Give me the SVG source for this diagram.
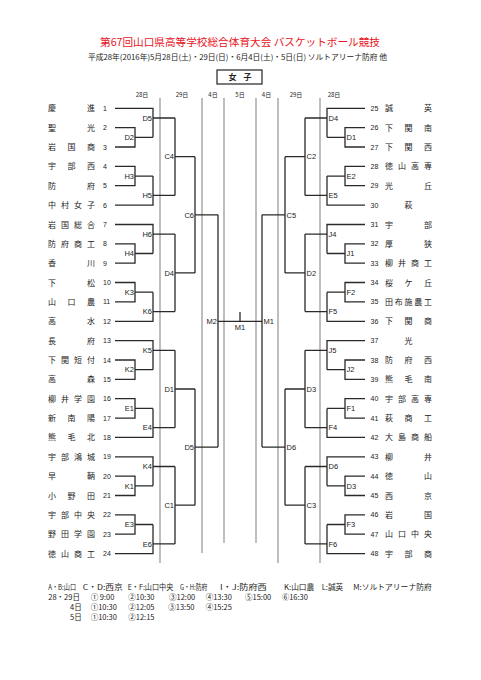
<svg xmlns="http://www.w3.org/2000/svg" width="481" height="680" viewBox="0 0 481 680">
<style>
text{font-family:"Liberation Sans","Noto Sans CJK JP",sans-serif;fill:#222}
.jp{font-family:"Noto Sans CJK JP","Noto Sans",sans-serif}
.title{font-family:"Noto Sans CJK JP",sans-serif;font-size:10.5px;fill:#e8141e}
.sub{font-family:"Noto Sans CJK JP",sans-serif;font-size:7.5px}
.nm{font-family:"Noto Sans CJK JP",sans-serif;font-size:8px;text-anchor:middle}
.no{font-size:7px}
.lb{font-size:7.5px}
.l{text-anchor:end}
.dt{font-family:"Noto Sans CJK JP",sans-serif;font-size:6px;text-anchor:middle}
.ft{font-family:"Noto Sans CJK JP",sans-serif;font-size:7.5px}
.grid{stroke:#a3a3a3;stroke-width:1.4;fill:none}
.br{stroke:#2a2a2a;stroke-width:1.3;fill:none}
</style>

<g id="header">
<text class="title" x="240" y="45.8" text-anchor="middle" textLength="280" lengthAdjust="spacingAndGlyphs">第67回山口県高等学校総合体育大会 バスケットボール競技</text>
<text class="sub" x="88" y="59.9" textLength="299" lengthAdjust="spacingAndGlyphs">平成28年(2016年)5月28日(土)・29日(日)・6月4日(土)・5日(日)  ソルトアリーナ防府 他</text>
</g>

<g id="category">
<rect x="217" y="70" width="45" height="14" fill="none" stroke="#222" stroke-width="1.2"/>
<text class="nm" x="232.5 247.5" y="80" font-weight="700">女子</text>
</g>

<g id="dates">
<text class="dt" x="142" y="97">28日</text>
<text class="dt" x="182" y="97">29日</text>
<text class="dt" x="213" y="97">4日</text>
<text class="dt" x="240" y="97">5日</text>
<text class="dt" x="266.5" y="97">4日</text>
<text class="dt" x="296" y="97">29日</text>
<text class="dt" x="334" y="97">28日</text>
</g>

<g id="day-lines" class="grid">
<path d="M160 98V563M202 98V553M224 98V543M256 98V543M278 98V563M320 98V563"/>
</g>

<g id="connectors" class="br">
<path d="M115 108.3H153V137.3M115 127.7H135V147H115M135 137.3H153M153 118H175"/>
<path d="M115 166.4H135V185.7H115M135 176.1H153M115 205.1H153V176.1M153 195.4H175"/>
<path d="M175 118V195.4M175 156.7H195"/>
<path d="M115 224.5H153V253.5M115 243.8H135V263.2H115M135 253.5H153M153 234.1H175"/>
<path d="M115 282.5H135V301.9H115M135 292.2H153M115 321.3H153V292.2M153 311.6H175"/>
<path d="M175 234.1V311.6M175 272.9H195"/>
<path d="M195 156.7V272.9M195 214.8H218"/>
<path d="M115 340.6H153V369.7M115 360H135V379.3H115M135 369.7H153M153 350.3H175"/>
<path d="M115 398.7H135V418.1H115M135 408.4H153M115 437.4H153V408.4M153 427.7H175"/>
<path d="M175 350.3V427.7M175 389H195"/>
<path d="M115 456.8H153V485.8M115 476.1H135V495.5H115M135 485.8H153M153 466.5H175"/>
<path d="M115 514.9H135V534.2H115M135 524.5H153M115 553.6H153V524.5M153 543.9H175"/>
<path d="M175 466.5V543.9M175 505.2H195"/>
<path d="M195 389V505.2M195 447.1H218"/>
<path d="M218 214.8V447.1M218 321.3H262"/>
<path d="M240 312V321.3"/>
<path d="M262 214.8V447.1"/>
<path d="M365 108.3H327V137.3M365 127.7H345V147H365M345 137.3H327M327 118H305"/>
<path d="M365 166.4H345V185.7H365M345 176.1H327M365 205.1H327V176.1M327 195.4H305"/>
<path d="M305 118V195.4M305 156.7H285"/>
<path d="M365 224.5H327V253.5M365 243.8H345V263.2H365M345 253.5H327M327 234.1H305"/>
<path d="M365 282.5H345V301.9H365M345 292.2H327M365 321.3H327V292.2M327 311.6H305"/>
<path d="M305 234.1V311.6M305 272.9H285"/>
<path d="M285 156.7V272.9M285 214.8H262"/>
<path d="M365 340.6H327V369.7M365 360H345V379.3H365M345 369.7H327M327 350.3H305"/>
<path d="M365 398.7H345V418.1H365M345 408.4H327M365 437.4H327V408.4M327 427.7H305"/>
<path d="M305 350.3V427.7M305 389H285"/>
<path d="M365 456.8H327V485.8M365 476.1H345V495.5H365M345 485.8H327M327 466.5H305"/>
<path d="M365 514.9H345V534.2H365M345 524.5H327M365 553.6H327V524.5M327 543.9H305"/>
<path d="M305 466.5V543.9M305 505.2H285"/>
<path d="M285 389V505.2M285 447.1H262"/>
</g>

<g id="matches-left" class="lb">
<g id="mL-D2"><text class="lb l" x="134" y="140">D2</text></g>
<g id="mL-D5a"><text class="lb l" x="152" y="120.7">D5</text></g>
<g id="mL-H3"><text class="lb l" x="134" y="178.8">H3</text></g>
<g id="mL-H5"><text class="lb l" x="152" y="198.1">H5</text></g>
<g id="mL-C4"><text class="lb l" x="174" y="159.4">C4</text></g>
<g id="mL-H4"><text class="lb l" x="134" y="256.2">H4</text></g>
<g id="mL-H6"><text class="lb l" x="152" y="236.8">H6</text></g>
<g id="mL-K3"><text class="lb l" x="134" y="294.9">K3</text></g>
<g id="mL-K6"><text class="lb l" x="152" y="314.3">K6</text></g>
<g id="mL-D4"><text class="lb l" x="174" y="275.6">D4</text></g>
<g id="mL-C6"><text class="lb l" x="194" y="217.5">C6</text></g>
<g id="mL-K2"><text class="lb l" x="134" y="372.4">K2</text></g>
<g id="mL-K5"><text class="lb l" x="152" y="353">K5</text></g>
<g id="mL-E1"><text class="lb l" x="134" y="411.1">E1</text></g>
<g id="mL-E4"><text class="lb l" x="152" y="430.4">E4</text></g>
<g id="mL-D1"><text class="lb l" x="174" y="391.7">D1</text></g>
<g id="mL-K1"><text class="lb l" x="134" y="488.5">K1</text></g>
<g id="mL-K4"><text class="lb l" x="152" y="469.2">K4</text></g>
<g id="mL-E3"><text class="lb l" x="134" y="527.2">E3</text></g>
<g id="mL-E6"><text class="lb l" x="152" y="546.6">E6</text></g>
<g id="mL-C1"><text class="lb l" x="174" y="507.9">C1</text></g>
<g id="mL-D5b"><text class="lb l" x="194" y="449.8">D5</text></g>
<g id="mL-M2"><text class="lb l" x="217" y="324">M2</text></g>
</g>

<g id="final"><text class="lb" x="240" y="329.5" text-anchor="middle">M1</text></g>

<g id="matches-right">
<g id="mR-D1"><text class="lb" x="346.5" y="140">D1</text></g>
<g id="mR-D4"><text class="lb" x="328.5" y="120.7">D4</text></g>
<g id="mR-E2"><text class="lb" x="346.5" y="178.8">E2</text></g>
<g id="mR-E5"><text class="lb" x="328.5" y="198.1">E5</text></g>
<g id="mR-C2"><text class="lb" x="306.5" y="159.4">C2</text></g>
<g id="mR-J1"><text class="lb" x="346.5" y="256.2">J1</text></g>
<g id="mR-J4"><text class="lb" x="328.5" y="236.8">J4</text></g>
<g id="mR-F2"><text class="lb" x="346.5" y="294.9">F2</text></g>
<g id="mR-F5"><text class="lb" x="328.5" y="314.3">F5</text></g>
<g id="mR-D2"><text class="lb" x="306.5" y="275.6">D2</text></g>
<g id="mR-C5"><text class="lb" x="286.5" y="217.5">C5</text></g>
<g id="mR-J2"><text class="lb" x="346.5" y="372.4">J2</text></g>
<g id="mR-J5"><text class="lb" x="328.5" y="353">J5</text></g>
<g id="mR-F1"><text class="lb" x="346.5" y="411.1">F1</text></g>
<g id="mR-F4"><text class="lb" x="328.5" y="430.4">F4</text></g>
<g id="mR-D3a"><text class="lb" x="306.5" y="391.7">D3</text></g>
<g id="mR-D3b"><text class="lb" x="346.5" y="488.5">D3</text></g>
<g id="mR-D6a"><text class="lb" x="328.5" y="469.2">D6</text></g>
<g id="mR-F3"><text class="lb" x="346.5" y="527.2">F3</text></g>
<g id="mR-F6"><text class="lb" x="328.5" y="546.6">F6</text></g>
<g id="mR-C3"><text class="lb" x="306.5" y="507.9">C3</text></g>
<g id="mR-D6b"><text class="lb" x="286.5" y="449.8">D6</text></g>
<g id="mR-M1"><text class="lb" x="263.5" y="324">M1</text></g>
</g>

<g id="teams-left">
<g id="team-1" transform="translate(0 108.3)"><text class="nm" x="52 91" y="3">慶進</text><text class="no" x="103" y="2.5">1</text></g>
<g id="team-2" transform="translate(0 127.7)"><text class="nm" x="52 91" y="3">聖光</text><text class="no" x="103" y="2.5">2</text></g>
<g id="team-3" transform="translate(0 147)"><text class="nm" x="52 71.5 91" y="3">岩国商</text><text class="no" x="103" y="2.5">3</text></g>
<g id="team-4" transform="translate(0 166.4)"><text class="nm" x="52 71.5 91" y="3">宇部西</text><text class="no" x="103" y="2.5">4</text></g>
<g id="team-5" transform="translate(0 185.7)"><text class="nm" x="52 91" y="3">防府</text><text class="no" x="103" y="2.5">5</text></g>
<g id="team-6" transform="translate(0 205.1)"><text class="nm" x="52 65 78 91" y="3">中村女子</text><text class="no" x="103" y="2.5">6</text></g>
<g id="team-7" transform="translate(0 224.5)"><text class="nm" x="52 65 78 91" y="3">岩国総合</text><text class="no" x="103" y="2.5">7</text></g>
<g id="team-8" transform="translate(0 243.8)"><text class="nm" x="52 65 78 91" y="3">防府商工</text><text class="no" x="103" y="2.5">8</text></g>
<g id="team-9" transform="translate(0 263.2)"><text class="nm" x="52 91" y="3">香川</text><text class="no" x="103" y="2.5">9</text></g>
<g id="team-10" transform="translate(0 282.5)"><text class="nm" x="52 91" y="3">下松</text><text class="no" x="103" y="2.5">10</text></g>
<g id="team-11" transform="translate(0 301.9)"><text class="nm" x="52 71.5 91" y="3">山口農</text><text class="no" x="103" y="2.5">11</text></g>
<g id="team-12" transform="translate(0 321.3)"><text class="nm" x="52 91" y="3">高水</text><text class="no" x="103" y="2.5">12</text></g>
<g id="team-13" transform="translate(0 340.6)"><text class="nm" x="52 91" y="3">長府</text><text class="no" x="103" y="2.5">13</text></g>
<g id="team-14" transform="translate(0 360)"><text class="nm" x="52 65 78 91" y="3">下関短付</text><text class="no" x="103" y="2.5">14</text></g>
<g id="team-15" transform="translate(0 379.3)"><text class="nm" x="52 91" y="3">高森</text><text class="no" x="103" y="2.5">15</text></g>
<g id="team-16" transform="translate(0 398.7)"><text class="nm" x="52 65 78 91" y="3">柳井学園</text><text class="no" x="103" y="2.5">16</text></g>
<g id="team-17" transform="translate(0 418.1)"><text class="nm" x="52 71.5 91" y="3">新南陽</text><text class="no" x="103" y="2.5">17</text></g>
<g id="team-18" transform="translate(0 437.4)"><text class="nm" x="52 71.5 91" y="3">熊毛北</text><text class="no" x="103" y="2.5">18</text></g>
<g id="team-19" transform="translate(0 456.8)"><text class="nm" x="52 65 78 91" y="3">宇部鴻城</text><text class="no" x="103" y="2.5">19</text></g>
<g id="team-20" transform="translate(0 476.1)"><text class="nm" x="52 91" y="3">早鞆</text><text class="no" x="103" y="2.5">20</text></g>
<g id="team-21" transform="translate(0 495.5)"><text class="nm" x="52 71.5 91" y="3">小野田</text><text class="no" x="103" y="2.5">21</text></g>
<g id="team-22" transform="translate(0 514.9)"><text class="nm" x="52 65 78 91" y="3">宇部中央</text><text class="no" x="103" y="2.5">22</text></g>
<g id="team-23" transform="translate(0 534.2)"><text class="nm" x="52 65 78 91" y="3">野田学園</text><text class="no" x="103" y="2.5">23</text></g>
<g id="team-24" transform="translate(0 553.6)"><text class="nm" x="52 65 78 91" y="3">徳山商工</text><text class="no" x="103" y="2.5">24</text></g>
</g>

<g id="teams-right">
<g id="team-25" transform="translate(0 108.3)"><text class="no" x="370.5" y="2.5">25</text><text class="nm" x="389 428" y="3">誠英</text></g>
<g id="team-26" transform="translate(0 127.7)"><text class="no" x="370.5" y="2.5">26</text><text class="nm" x="389 408.5 428" y="3">下関南</text></g>
<g id="team-27" transform="translate(0 147)"><text class="no" x="370.5" y="2.5">27</text><text class="nm" x="389 408.5 428" y="3">下関西</text></g>
<g id="team-28" transform="translate(0 166.4)"><text class="no" x="370.5" y="2.5">28</text><text class="nm" x="389 402 415 428" y="3">徳山高専</text></g>
<g id="team-29" transform="translate(0 185.7)"><text class="no" x="370.5" y="2.5">29</text><text class="nm" x="389 428" y="3">光丘</text></g>
<g id="team-30" transform="translate(0 205.1)"><text class="no" x="370.5" y="2.5">30</text><text class="nm" x="408.5" y="3">萩</text></g>
<g id="team-31" transform="translate(0 224.5)"><text class="no" x="370.5" y="2.5">31</text><text class="nm" x="389 428" y="3">宇部</text></g>
<g id="team-32" transform="translate(0 243.8)"><text class="no" x="370.5" y="2.5">32</text><text class="nm" x="389 428" y="3">厚狭</text></g>
<g id="team-33" transform="translate(0 263.2)"><text class="no" x="370.5" y="2.5">33</text><text class="nm" x="389 402 415 428" y="3">柳井商工</text></g>
<g id="team-34" transform="translate(0 282.5)"><text class="no" x="370.5" y="2.5">34</text><text class="nm" x="389 408.5 428" y="3">桜ケ丘</text></g>
<g id="team-35" transform="translate(0 301.9)"><text class="no" x="370.5" y="2.5">35</text><text class="nm" x="389 398.75 408.5 418.25 428" y="3">田布施農工</text></g>
<g id="team-36" transform="translate(0 321.3)"><text class="no" x="370.5" y="2.5">36</text><text class="nm" x="389 408.5 428" y="3">下関商</text></g>
<g id="team-37" transform="translate(0 340.6)"><text class="no" x="370.5" y="2.5">37</text><text class="nm" x="408.5" y="3">光</text></g>
<g id="team-38" transform="translate(0 360)"><text class="no" x="370.5" y="2.5">38</text><text class="nm" x="389 408.5 428" y="3">防府西</text></g>
<g id="team-39" transform="translate(0 379.3)"><text class="no" x="370.5" y="2.5">39</text><text class="nm" x="389 408.5 428" y="3">熊毛南</text></g>
<g id="team-40" transform="translate(0 398.7)"><text class="no" x="370.5" y="2.5">40</text><text class="nm" x="389 402 415 428" y="3">宇部高専</text></g>
<g id="team-41" transform="translate(0 418.1)"><text class="no" x="370.5" y="2.5">41</text><text class="nm" x="389 408.5 428" y="3">萩商工</text></g>
<g id="team-42" transform="translate(0 437.4)"><text class="no" x="370.5" y="2.5">42</text><text class="nm" x="389 402 415 428" y="3">大島商船</text></g>
<g id="team-43" transform="translate(0 456.8)"><text class="no" x="370.5" y="2.5">43</text><text class="nm" x="389 428" y="3">柳井</text></g>
<g id="team-44" transform="translate(0 476.1)"><text class="no" x="370.5" y="2.5">44</text><text class="nm" x="389 428" y="3">徳山</text></g>
<g id="team-45" transform="translate(0 495.5)"><text class="no" x="370.5" y="2.5">45</text><text class="nm" x="389 428" y="3">西京</text></g>
<g id="team-46" transform="translate(0 514.9)"><text class="no" x="370.5" y="2.5">46</text><text class="nm" x="389 428" y="3">岩国</text></g>
<g id="team-47" transform="translate(0 534.2)"><text class="no" x="370.5" y="2.5">47</text><text class="nm" x="389 402 415 428" y="3">山口中央</text></g>
<g id="team-48" transform="translate(0 553.6)"><text class="no" x="370.5" y="2.5">48</text><text class="nm" x="389 408.5 428" y="3">宇部商</text></g>
</g>

<g id="footer">
<text class="ft" x="48.3" y="589.5" textLength="27.7" lengthAdjust="spacingAndGlyphs">A・B:山口</text>
<text class="ft" x="82.7" y="589.5" textLength="40" lengthAdjust="spacingAndGlyphs">C・D:西京</text>
<text class="ft" x="127.7" y="589.5" textLength="45.6" lengthAdjust="spacingAndGlyphs">E・F:山口中央</text>
<text class="ft" x="180" y="589.5" textLength="27.3" lengthAdjust="spacingAndGlyphs">G・H:防府</text>
<text class="ft" x="220" y="589.5" textLength="46.7" lengthAdjust="spacingAndGlyphs">I・J:防府西</text>
<text class="ft" x="284" y="589.5" textLength="30.3" lengthAdjust="spacingAndGlyphs">K:山口農</text>
<text class="ft" x="321.7" y="589.5" textLength="21.6" lengthAdjust="spacingAndGlyphs">L:誠英</text>
<text class="ft" x="353.3" y="589.5" textLength="78.4" lengthAdjust="spacingAndGlyphs">M:ソルトアリーナ防府</text>
<text class="ft" x="48.3" y="599.7">28・29日</text>
<text class="ft" x="90.7" y="599.7">① 9:00</text>
<text class="ft" x="128.3" y="599.7">②10:30</text>
<text class="ft" x="169" y="599.7">③12:00</text>
<text class="ft" x="205.7" y="599.7">④13:30</text>
<text class="ft" x="245" y="599.7">⑤15:00</text>
<text class="ft" x="281.7" y="599.7">⑥16:30</text>
<text class="ft" x="70" y="609.7">4日</text>
<text class="ft" x="90.7" y="609.7">①10:30</text>
<text class="ft" x="128.3" y="609.7">②12:05</text>
<text class="ft" x="168.3" y="609.7">③13:50</text>
<text class="ft" x="205.7" y="609.7">④15:25</text>
<text class="ft" x="70" y="619.7">5日</text>
<text class="ft" x="90.7" y="619.7">①10:30</text>
<text class="ft" x="128.3" y="619.7">②12:15</text>
</g>
</svg>
